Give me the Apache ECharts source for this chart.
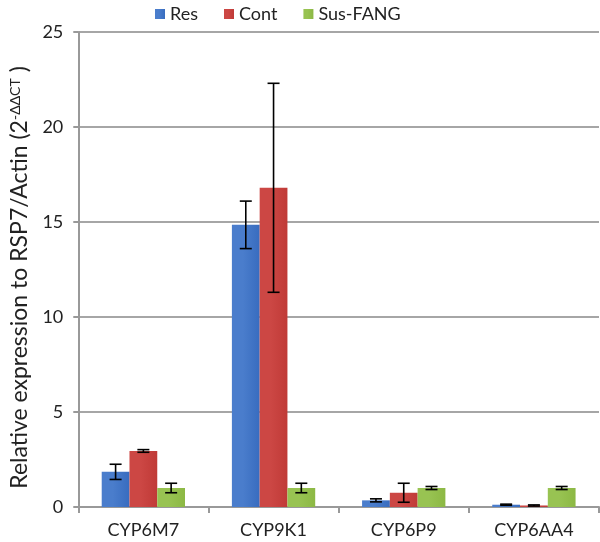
<!DOCTYPE html>
<html><head><meta charset="utf-8">
<script src="https://cdn.jsdelivr.net/npm/echarts@6/dist/echarts.min.js"></script>
<style>html,body{margin:0;padding:0;background:#fff}#c{width:600px;height:542px}</style>
</head><body><div id="c"></div>
<script>
var categories = ['CYP6M7', 'CYP9K1', 'CYP6P9', 'CYP6AA4'];
var seriesNames = ['Res', 'Cont', 'Sus-FANG'];
var resMean = [1.85, 14.85, 0.35, 0.12];
var resErr = [0.4, 1.25, 0.08, 0.03];
var contMean = [2.95, 16.8, 0.75, 0.08];
var contErr = [0.07, 5.5, 0.5, 0.03];
var susMean = [1.0, 1.0, 1.0, 1.0];
var susErr = [0.25, 0.25, 0.08, 0.08];
var yTicks = [0, 5, 10, 15, 20, 25];

var colors = ['#386cbf', '#c03a37', '#8cb844'];
var light = ['#4a7dcc', '#cc4744', '#98c352'];
var means = [resMean, contMean, susMean];
var errs = [resErr, contErr, susErr];
var gapRatio = 0.36;
var font = 'Lato, "Open Sans", sans-serif';

function grad(i){
  return new echarts.graphic.LinearGradient(0,0,1,0,[
    {offset:0,color:light[i]},{offset:0.4,color:light[i]},{offset:1,color:colors[i]}]);
}

var series = [];
seriesNames.forEach(function(n,i){
  series.push({
    name:n, type:'bar', data:means[i], barGap:'0%', barCategoryGap:(gapRatio*100)+'%',
    itemStyle:{color:grad(i)}
  });
});
seriesNames.forEach(function(n,i){
  var d = means[i].map(function(v,k){return [k, v - errs[i][k], v + errs[i][k]];});
  series.push({
    type:'custom', name:n+'_err', data:d, z:10, silent:true,
    encode:{x:0, y:[1,2]},
    renderItem:function(params, api){
      var k = api.value(0);
      var lo = api.coord([k, api.value(1)]);
      var hi = api.coord([k, api.value(2)]);
      var band = api.size([1,0])[0];
      var bw = band*(1-gapRatio)/3;
      var x = lo[0] + (i-1)*bw;
      var cap = 6;
      var st = {stroke:'#000', lineWidth:1.6};
      return {type:'group', children:[
        {type:'line', shape:{x1:x,y1:lo[1],x2:x,y2:hi[1]}, style:st},
        {type:'line', shape:{x1:x-cap,y1:lo[1],x2:x+cap,y2:lo[1]}, style:st},
        {type:'line', shape:{x1:x-cap,y1:hi[1],x2:x+cap,y2:hi[1]}, style:st}
      ]};
    }
  });
});

var chart = echarts.init(document.getElementById('c'));
chart.setOption({
  animation:false,
  legend:{data:seriesNames, top:0, left:150, itemWidth:10, itemHeight:10, itemGap:26,
    icon:'rect', textStyle:{fontFamily:font, fontSize:18, color:'#222'}},
  grid:{left:68, right:1, top:32, bottom:35},
  xAxis:{type:'category', data:categories,
    axisLine:{lineStyle:{color:'#999', width:2}},
    axisTick:{show:true, length:6, lineStyle:{color:'#999', width:2}},
    axisLabel:{fontFamily:font, fontSize:18, color:'#222', margin:14}},
  yAxis:{type:'value', min:yTicks[0], max:yTicks[yTicks.length-1], interval:5,
    name:'Relative expression to RSP7/Actin (2{sup|-ΔΔCT} )', nameLocation:'middle', nameGap:40,
    nameTextStyle:{fontFamily:font, fontSize:23, color:'#222', padding:[0,16,0,0],
      rich:{sup:{fontFamily:font, fontSize:14, color:'#222', verticalAlign:'top', padding:[0,0,10,0]}}},
    axisLine:{show:true, lineStyle:{color:'#999', width:2}},
    axisTick:{show:true, length:5, lineStyle:{color:'#999', width:2}},
    splitLine:{lineStyle:{color:'#a6a6a6', width:2}},
    axisLabel:{fontFamily:font, fontSize:18, color:'#222', margin:15}},
  series:series
});
</script></body></html>
